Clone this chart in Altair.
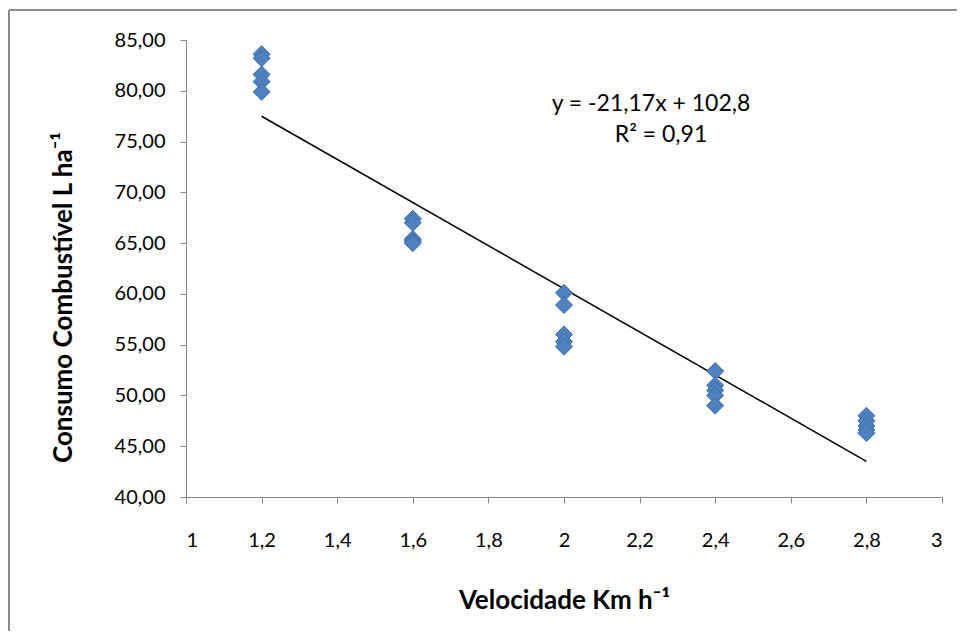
import altair as alt
import pandas as pd

velocidade = [1.2]*5 + [1.6]*5 + [2.0]*5 + [2.4]*5 + [2.8]*5
consumo = [83.6, 83.2, 81.6, 80.9, 79.9,
           67.4, 67.0, 65.4, 65.2, 65.0,
           60.1, 58.9, 56.0, 55.3, 54.8,
           52.4, 51.0, 50.5, 50.0, 49.0,
           48.0, 47.5, 47.0, 46.6, 46.3]
eq_lines = ["y = -21,17x + 102,8", "R² = 0,91"]

df = pd.DataFrame({"v": velocidade, "c": consumo})
FONT = "Lato"

xs = alt.X("v:Q", scale=alt.Scale(domain=[1, 3], nice=False),
           axis=alt.Axis(values=[1, 1.2, 1.4, 1.6, 1.8, 2, 2.2, 2.4, 2.6, 2.8, 3],
                         labelExpr="replace(format(datum.value, '.1~f'), '.', ',')",
                         title="Velocidade Km h⁻¹", titlePadding=37, labelPadding=27))
ys = alt.Y("c:Q", scale=alt.Scale(domain=[40, 85], nice=False, zero=False),
           axis=alt.Axis(values=list(range(40, 90, 5)),
                         labelExpr="replace(format(datum.value, '.2f'), '.', ',')",
                         title="Consumo Combustível L ha⁻¹", titlePadding=38, labelPadding=15,
                         titleY=257))

points = alt.Chart(df).mark_point(shape="diamond", filled=True, size=290,
                                   color="#4F81BD", stroke="#3D6DA8", strokeWidth=1,
                                   opacity=1).encode(x=xs, y=ys)

trend = alt.Chart(df).transform_regression("v", "c").mark_line(
    color="black", strokeWidth=1.5).encode(x="v:Q", y="c:Q")

eq = alt.Chart(pd.DataFrame({"t": [eq_lines[0]]})).mark_text(
    font=FONT, fontSize=23, color="#000000", align="center", baseline="middle"
).encode(text="t:N", x=alt.value(465), y=alt.value(64))
r2 = alt.Chart(pd.DataFrame({"t": [eq_lines[1]]})).mark_text(
    font=FONT, fontSize=23, color="#000000", align="center", baseline="middle"
).encode(text="t:N", x=alt.value(475), y=alt.value(95))

frame_left = alt.Chart(pd.DataFrame({"a": [0]})).mark_rule(color="#8c8c8c", strokeWidth=2).encode(
    x=alt.value(-177), y=alt.value(-30), y2=alt.value(700))
frame_top = alt.Chart(pd.DataFrame({"a": [0]})).mark_rule(color="#8c8c8c", strokeWidth=2).encode(
    x=alt.value(-177), x2=alt.value(1000), y=alt.value(-30))

chart = alt.layer(frame_left, frame_top, trend, points, eq, r2).properties(
    width=756, height=457,
    autosize=alt.AutoSizeParams(type="none"),
    padding={"left": 178, "top": 32, "right": 15, "bottom": 134},
).configure_view(stroke=None).configure_axis(
    grid=False, domainColor="#868686", tickColor="#868686", tickSize=6,
    labelFont=FONT, labelFontSize=20, labelColor="#000000",
    titleFont=FONT, titleFontSize=26, titleFontWeight="bold", titleColor="#000000",
)

chart.save("out.html", embed_options={"renderer": "svg", "actions": False})
